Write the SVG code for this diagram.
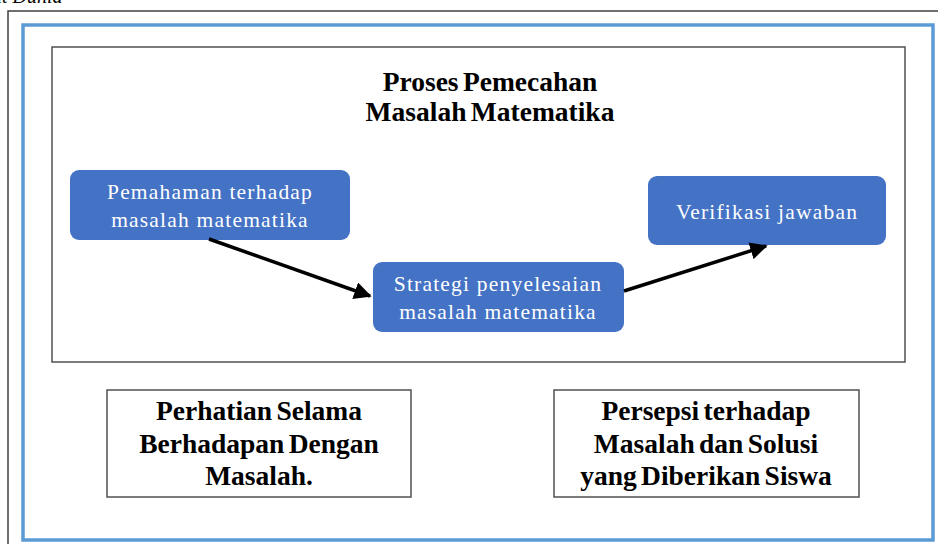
<svg xmlns="http://www.w3.org/2000/svg" width="938" height="544" viewBox="0 0 938 544">
<defs>
<marker id="ah" viewBox="0 0 10 10" refX="9" refY="5" markerWidth="5" markerHeight="5" orient="auto" markerUnits="strokeWidth">
<path d="M0,0 L10,5 L0,10 z" fill="#000"/>
</marker>
<style>
.frame{fill:none;stroke:#404040;stroke-width:1.5}
.blue{fill:none;stroke:#5B9BD5;stroke-width:3.5}
.box{fill:#fff;stroke:#505050;stroke-width:1.5}
.node{fill:#4472C4;stroke:none}
.nt{font-family:"Liberation Serif","Times New Roman",serif;font-size:21.5px;fill:#fff;text-anchor:middle;letter-spacing:1.2px}
.bt{font-family:"Liberation Serif","Times New Roman",serif;font-size:27.5px;font-weight:bold;fill:#000;text-anchor:middle;word-spacing:-2.5px}
.conn{stroke:#000;stroke-width:3.5;fill:none;marker-end:url(#ah)}
</style>
</defs>
<rect width="938" height="544" fill="#fff"/>
<text x="-8" y="3" font-family="Liberation Serif, serif" font-style="italic" font-size="20" fill="#000">at Dunia</text>
<rect class="frame" x="8" y="11" width="940" height="545"/>
<rect class="blue" x="23" y="25" width="910" height="515"/>
<g id="process">
<rect class="box" x="52" y="47" width="853" height="315"/>
<text class="bt" x="490" y="91">Proses Pemecahan</text>
<text class="bt" x="490" y="121">Masalah Matematika</text>
</g>
<g id="n1">
<rect class="node" x="70" y="170" width="280" height="70" rx="9"/>
<text class="nt" x="210" y="199">Pemahaman terhadap</text>
<text class="nt" x="210" y="227">masalah matematika</text>
</g>
<g id="n2">
<rect class="node" x="373" y="262" width="251" height="70" rx="9"/>
<text class="nt" x="498" y="291">Strategi penyelesaian</text>
<text class="nt" x="498" y="319">masalah matematika</text>
</g>
<g id="n3">
<rect class="node" x="648" y="176" width="238" height="69" rx="9"/>
<text class="nt" x="767" y="219">Verifikasi jawaban</text>
</g>
<g id="connectors">
<line class="conn" x1="209" y1="239" x2="370" y2="296"/>
<line class="conn" x1="624" y1="291" x2="766" y2="246"/>
</g>
<g id="b1">
<rect class="box" x="107" y="390" width="304" height="107"/>
<text class="bt" x="259" y="420">Perhatian Selama</text>
<text class="bt" x="259" y="453">Berhadapan Dengan</text>
<text class="bt" x="259" y="485">Masalah.</text>
</g>
<g id="b2">
<rect class="box" x="554" y="390" width="305" height="107"/>
<text class="bt" x="706" y="420">Persepsi terhadap</text>
<text class="bt" x="706" y="453">Masalah dan Solusi</text>
<text class="bt" x="706" y="485">yang Diberikan Siswa</text>
</g>
</svg>
